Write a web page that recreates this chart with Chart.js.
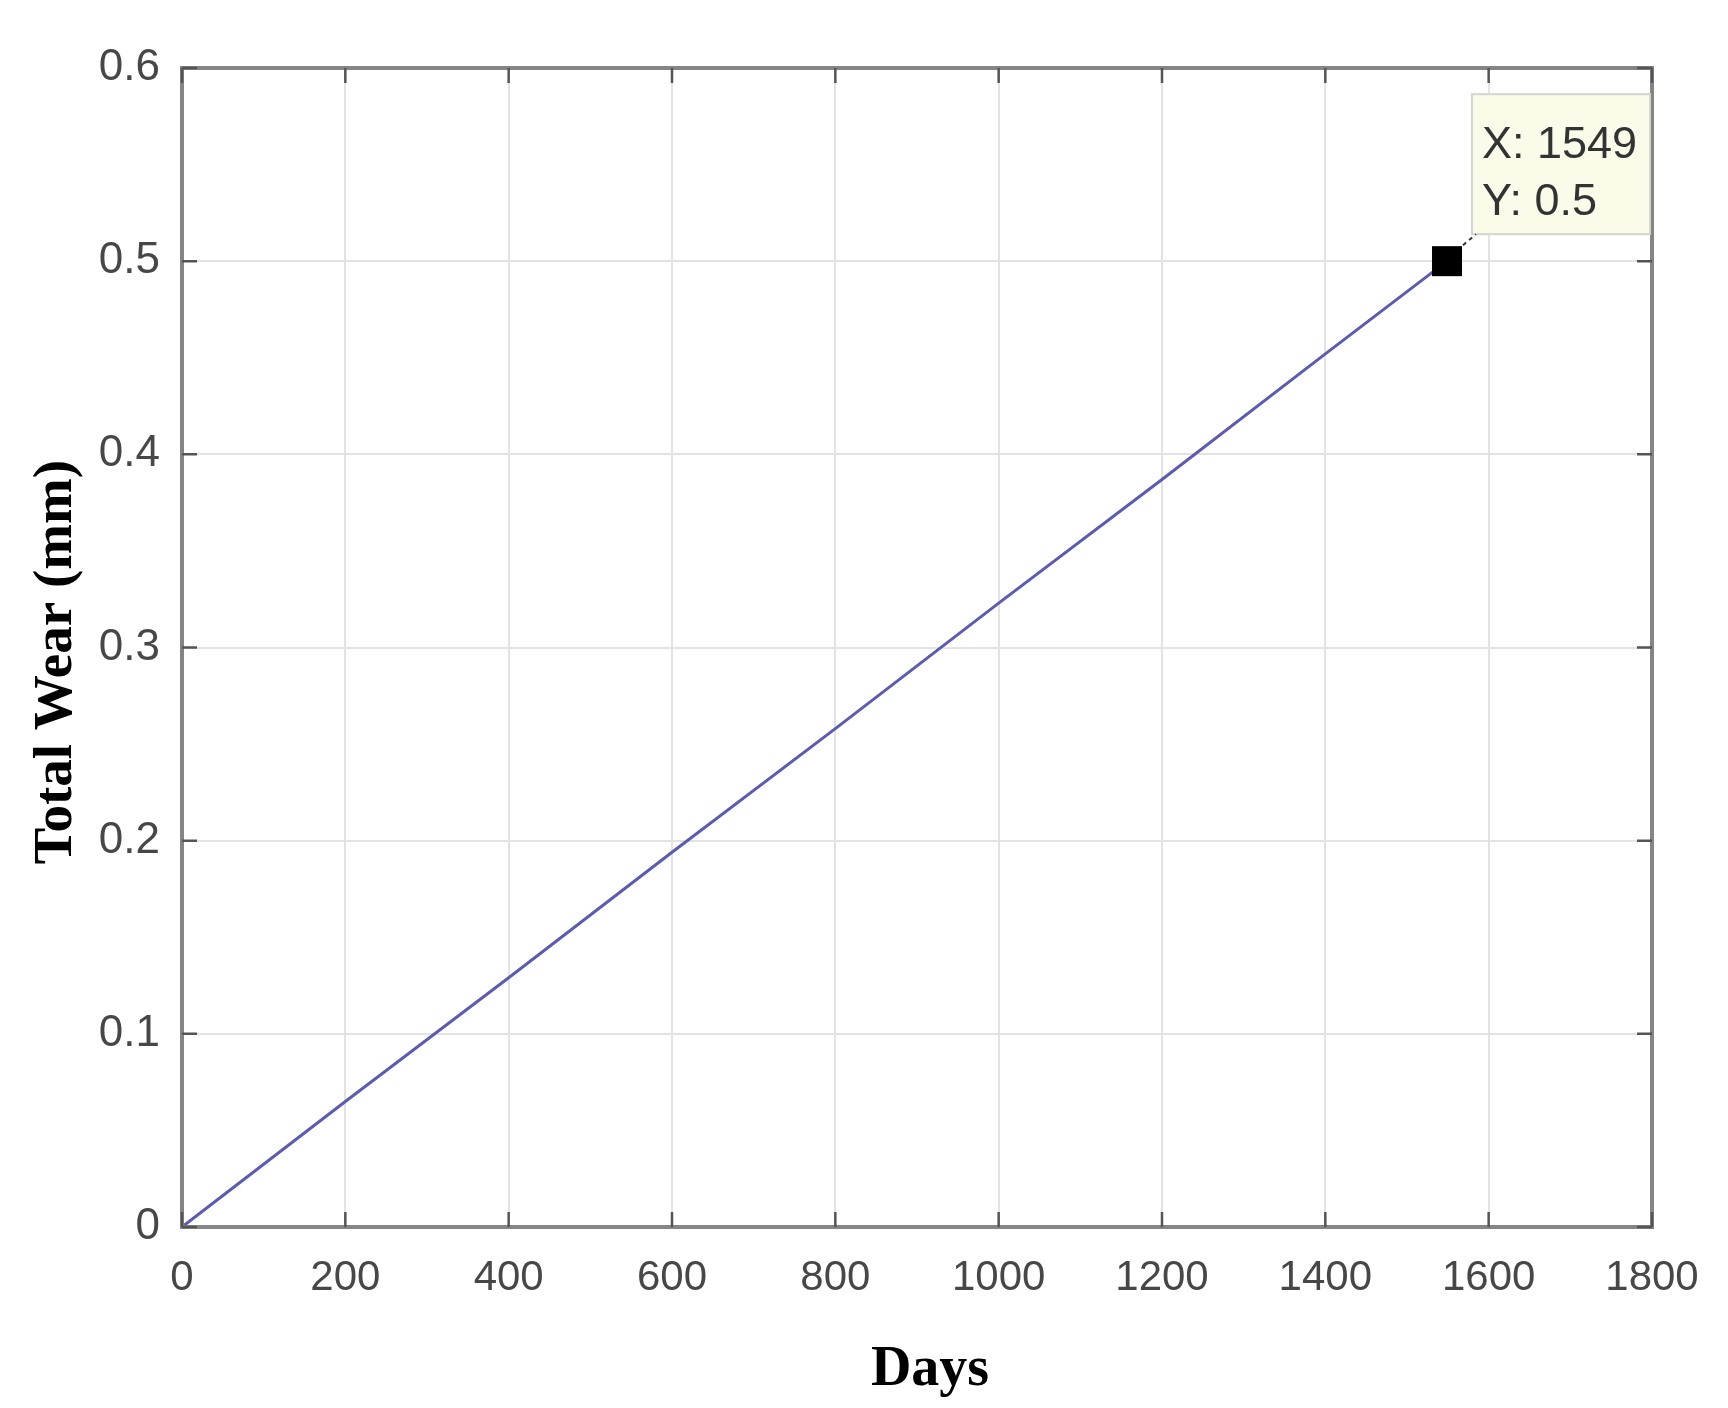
<!DOCTYPE html>
<html>
<head>
<meta charset="utf-8">
<script src="https://cdn.jsdelivr.net/npm/chart.js@4.4.1/dist/chart.umd.min.js"></script>
<style>
  html, body { margin: 0; padding: 0; background: #ffffff; }
  #wrap { width: 1728px; height: 1408px; position: relative; }
</style>
</head>
<body>
<div id="wrap"><canvas id="c" width="1728" height="1408"></canvas></div>
<script>
// Data
const days = [0, 200, 400, 600, 800, 1000, 1200, 1400, 1549];
const totalWear = [0, 0.065, 0.129, 0.194, 0.258, 0.323, 0.387, 0.452, 0.5];
const xTicks = [0, 200, 400, 600, 800, 1000, 1200, 1400, 1600, 1800];
const yTicks = [0, 0.1, 0.2, 0.3, 0.4, 0.5, 0.6];
const dataTip = { x: 1549, y: 0.5 };
const xTitle = 'Days';
const yTitle = 'Total Wear (mm)';

const tickColor = '#474747';

const framePlugin = {
  id: 'frame',
  afterDatasetsDraw(chart) {
    const { ctx, chartArea: a, scales } = chart;
    const xs = scales.x, ys = scales.y;
    ctx.save();
    // box frame
    ctx.strokeStyle = '#858585';
    ctx.lineWidth = 4;
    ctx.strokeRect(a.left, a.top, a.right - a.left, a.bottom - a.top);
    // inward ticks
    ctx.strokeStyle = '#555555';
    ctx.lineWidth = 2.5;
    const tl = 15;
    ctx.beginPath();
    xTicks.forEach(v => {
      const px = xs.getPixelForValue(v);
      ctx.moveTo(px, a.bottom); ctx.lineTo(px, a.bottom - tl);
      ctx.moveTo(px, a.top); ctx.lineTo(px, a.top + tl);
    });
    yTicks.forEach(v => {
      const py = ys.getPixelForValue(v);
      ctx.moveTo(a.left, py); ctx.lineTo(a.left + tl, py);
      ctx.moveTo(a.right, py); ctx.lineTo(a.right - tl, py);
    });
    ctx.stroke();

    // data tip
    const mx = xs.getPixelForValue(dataTip.x);
    const my = ys.getPixelForValue(dataTip.y);
    const bx = mx + 25, by = my - 167, bw = a.right - 2 - bx, bh = 140;
    ctx.fillStyle = '#fbfbea';
    ctx.fillRect(bx, by, bw, bh);
    ctx.strokeStyle = '#d4d4d0';
    ctx.lineWidth = 2;
    ctx.strokeRect(bx, by, bw, bh);
    // connector
    ctx.strokeStyle = '#333333';
    ctx.lineWidth = 2;
    ctx.setLineDash([4, 4]);
    ctx.beginPath();
    ctx.moveTo(mx + 16, my - 16);
    ctx.lineTo(bx + 4, by + bh);
    ctx.stroke();
    ctx.setLineDash([]);
    // marker
    ctx.fillStyle = '#000000';
    ctx.fillRect(mx - 15, my - 15, 30, 30);
    // tip text
    ctx.fillStyle = '#333333';
    ctx.font = '45px "Liberation Sans", Arial, sans-serif';
    ctx.textAlign = 'left';
    ctx.textBaseline = 'alphabetic';
    ctx.fillText('X: ' + dataTip.x, bx + 10, by + 64);
    ctx.fillText('Y: ' + dataTip.y, bx + 10, by + 121);

    // axis titles
    ctx.fillStyle = '#000000';
    ctx.textAlign = 'center';
    ctx.textBaseline = 'alphabetic';
    ctx.font = 'bold 56px "Liberation Serif", "Times New Roman", serif';
    ctx.fillText(xTitle, 930, 1385);
    ctx.font = 'bold 55px "Liberation Serif", "Times New Roman", serif';
    ctx.save();
    ctx.translate(71, 662);
    ctx.rotate(-Math.PI / 2);
    ctx.fillText(yTitle, 0, 0);
    ctx.restore();
    ctx.restore();
  }
};

new Chart(document.getElementById('c'), {
  type: 'scatter',
  data: {
    datasets: [{
      data: days.map((d, i) => ({ x: d, y: totalWear[i] })),
      showLine: true,
      borderColor: '#5b5bb4',
      borderWidth: 3,
      pointRadius: 0,
      fill: false,
      tension: 0
    }]
  },
  options: {
    responsive: false,
    animation: false,
    layout: { padding: { left: 0, top: 68, right: 76, bottom: 0 } },
    plugins: { legend: { display: false }, tooltip: { enabled: false } },
    scales: {
      x: {
        type: 'linear', min: 0, max: 1800,
        afterBuildTicks: s => { s.ticks = xTicks.map(v => ({ value: v })); },
        afterFit: s => { s.height = 181; },
        grid: { color: '#e3e3e3', lineWidth: 2, drawTicks: false },
        border: { display: false },
        ticks: {
          font: { family: 'Liberation Sans, Arial, sans-serif', size: 42 },
          color: tickColor, padding: 26, maxRotation: 0,
          callback: v => String(v)
        }
      },
      y: {
        type: 'linear', min: 0, max: 0.6,
        afterBuildTicks: s => { s.ticks = yTicks.map(v => ({ value: v })); },
        afterFit: s => { s.width = 182; },
        grid: { color: '#e3e3e3', lineWidth: 2, drawTicks: false },
        border: { display: false },
        ticks: {
          font: { family: 'Liberation Sans, Arial, sans-serif', size: 44 },
          color: tickColor, padding: 22,
          callback: v => String(v)
        }
      }
    }
  },
  plugins: [framePlugin]
});
</script>
</body>
</html>
